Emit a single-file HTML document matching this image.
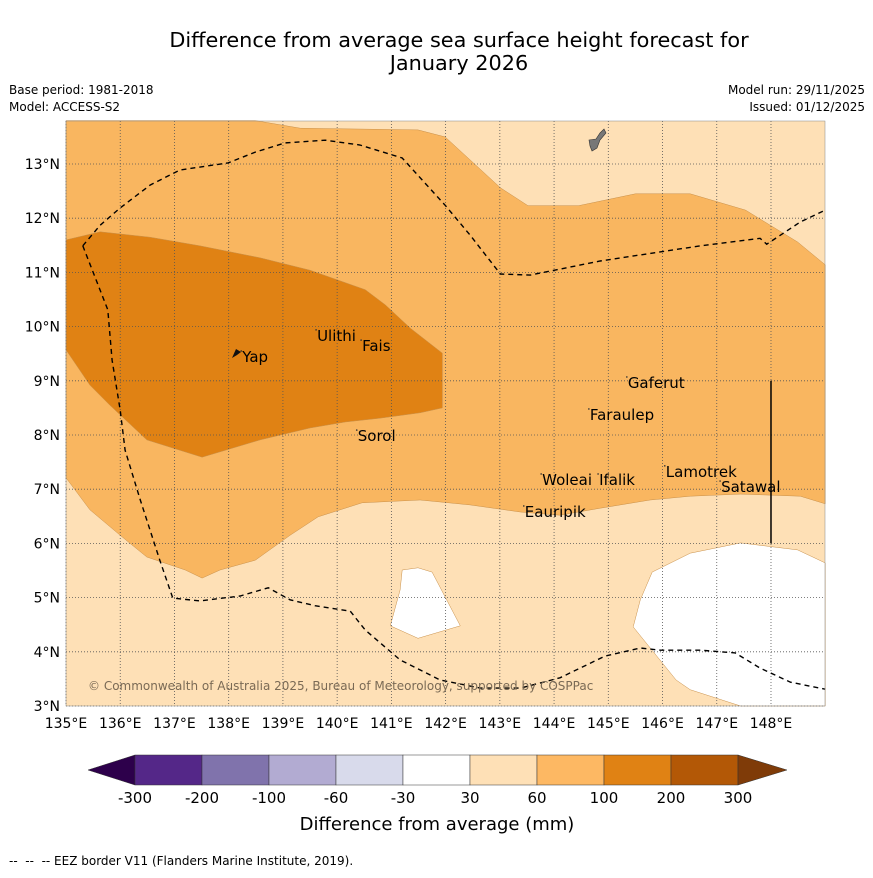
<!DOCTYPE html>
<html><head><meta charset="utf-8"><style>
body{margin:0;background:#fff;font-family:"Liberation Sans","DejaVu Sans",sans-serif;}
svg text{font-family:"DejaVu Sans","Liberation Sans",sans-serif;}
</style></head><body>
<svg id="chart" width="873" height="873" xmlns="http://www.w3.org/2000/svg">
<rect width="873" height="873" fill="#fff"/>
<text x="459" y="47" font-size="20.8" text-anchor="middle">Difference from average sea surface height forecast for</text>
<text x="459" y="70" font-size="20.8" text-anchor="middle">January 2026</text>
<text x="9" y="94" font-size="12">Base period: 1981-2018</text>
<text x="9" y="111" font-size="12">Model: ACCESS-S2</text>
<text x="865" y="94" font-size="12" text-anchor="end">Model run: 29/11/2025</text>
<text x="865" y="111" font-size="12" text-anchor="end">Issued: 01/12/2025</text>
<g id="map"></g>
<g id="cbar"></g>
<text x="437" y="830" font-size="18" text-anchor="middle">Difference from average (mm)</text>
<text x="9" y="865" font-size="12" xml:space="preserve">--  --  -- EEZ border V11 (Flanders Marine Institute, 2019).</text>
</svg>
<script>
const lonTicks=[135,136,137,138,139,140,141,142,143,144,145,146,147,148];
const latTicks=[3,4,5,6,7,8,9,10,11,12,13];
const mediumRegion=[[135,13.8],[138.49,13.8],[139.32,13.66],[141.49,13.63],[141.99,13.5],[143.01,12.56],[143.52,12.23],[144.45,12.23],[145.5,12.45],[146.51,12.45],[147.53,12.15],[148.49,11.56],[149,11.14],[149,6.73],[148.54,6.87],[147.44,6.91],[146.51,6.87],[145.77,6.8],[144.85,6.65],[144.11,6.52],[143.38,6.58],[142.45,6.71],[141.53,6.8],[140.46,6.75],[139.65,6.49],[139.13,6.15],[138.49,5.69],[137.84,5.51],[137.51,5.36],[137.2,5.51],[136.49,5.75],[136.0,6.15],[135.44,6.62],[135,7.21]];
const darkRegion=[[135,11.6],[135.63,11.75],[136.55,11.65],[137.47,11.49],[138.58,11.27],[139.5,11.04],[140.52,10.68],[140.89,10.4],[141.35,9.97],[141.94,9.51],[141.94,8.5],[141.53,8.41],[140.79,8.31],[140.15,8.24],[139.5,8.13],[138.58,7.91],[137.51,7.59],[136.49,7.91],[135.81,8.55],[135.44,8.92],[135,9.57]];
const whiteRegion1=[[141.2,5.51],[141.49,5.55],[141.75,5.47],[142.27,4.48],[141.49,4.25],[140.98,4.48],[141.16,5.14]];
const whiteRegion2=[[145.81,5.47],[146.51,5.82],[147.44,6.01],[148.49,5.88],[149,5.64],[149,3],[147.44,3],[146.51,3.3],[146.25,3.48],[145.46,4.46],[145.59,4.96]];
const eezNorth=[[135.31,11.49],[135.63,11.87],[136,12.19],[136.55,12.61],[137.1,12.89],[137.99,13.02],[138.49,13.22],[139.04,13.39],[139.78,13.44],[140.42,13.35],[141.2,13.11],[141.99,12.24],[142.45,11.69],[143.01,10.97],[143.56,10.95],[144.85,11.21],[146.7,11.49],[147.8,11.63],[147.92,11.52],[148.54,11.93],[149,12.15]];
const eezSouth=[[135.31,11.49],[135.77,10.31],[135.85,9.38],[136,8.46],[136.09,7.72],[136.37,6.8],[136.73,5.69],[136.97,4.99],[137.47,4.94],[138.21,5.03],[138.73,5.18],[139.13,4.96],[139.59,4.85],[140.24,4.75],[140.52,4.4],[141.16,3.85],[141.9,3.48],[142.64,3.33],[143.38,3.33],[144.11,3.52],[144.94,3.92],[145.59,4.07],[145.96,4.03],[146.7,4.03],[147.34,3.98],[147.8,3.7],[148.36,3.44],[149,3.31]];
const placeNames=["Yap","Ulithi","Fais","Sorol","Gaferut","Faraulep","Woleai","Ifalik","Lamotrek","Satawal","Eauripik"];
const placeLon=[138.25,139.63,140.46,140.38,145.36,144.66,143.78,144.83,146.06,147.08,143.46];
const placeLat=[9.44,9.83,9.64,7.98,8.96,8.37,7.17,7.17,7.32,7.04,6.58];
const cbColors=["#542788","#8073ac","#b2abd2","#d8daeb","#ffffff","#fee0b6","#fdb863","#e08214","#b35806"];
const cbLabels=["-300","-200","-100","-60","-30","30","60","100","200","300"];

const NS="http://www.w3.org/2000/svg";
const X0=66,X1=825,Y0=121,Y1=706;
const xs=lon=>66+(lon-135)*54.23;
const ys=lat=>706-(lat-3)*54.2;
function mk(tag,attrs,parent){const e=document.createElementNS(NS,tag);for(const k in attrs)e.setAttribute(k,attrs[k]);parent.appendChild(e);return e;}
const map=document.getElementById('map');
const pts=a=>a.map(p=>xs(p[0]).toFixed(1)+','+ys(p[1]).toFixed(1)).join(' ');
let bg=mk('rect',{x:X0,y:Y0,width:X1-X0,height:Y1-Y0,fill:'#fee0b6'},map);


const regions=[[mediumRegion,'#f9b660','contour-60-100'],[darkRegion,'#e08214','contour-100-200'],[whiteRegion1,'#ffffff','contour-white-1'],[whiteRegion2,'#ffffff','contour-white-2']];
regions.forEach(r=>{const p=mk('polygon',{points:pts(r[0]),fill:r[1],stroke:'#c8904a','stroke-width':0.5},map);

});
lonTicks.forEach(l=>{const g=mk('line',{x1:xs(l),x2:xs(l),y1:Y0,y2:Y1,stroke:'#555','stroke-width':0.8,'stroke-dasharray':'1,2'},map);


const t=mk('text',{x:xs(l),y:Y1+22,'font-size':14,'text-anchor':'middle'},map);t.textContent=l+'°E';

});
latTicks.forEach(l=>{const g=mk('line',{x1:X0,x2:X1,y1:ys(l),y2:ys(l),stroke:'#555','stroke-width':0.8,'stroke-dasharray':'1,2'},map);


const t=mk('text',{x:X0-6,y:ys(l)+5,'font-size':14,'text-anchor':'end'},map);t.textContent=l+'°N';

});
[eezNorth,eezSouth].forEach((a,i)=>{const p=mk('polyline',{points:pts(a),fill:'none',stroke:'#000','stroke-width':1.4,'stroke-dasharray':'5,4'},map);

});
let vl=mk('line',{x1:xs(148),x2:xs(148),y1:ys(9),y2:ys(6),stroke:'#000','stroke-width':1.5},map);


let guam=mk('path',{d:'M589,140 L596,139 L600,133 L604,129 L606,133 L600,140 L597,148 L592,151 L590,146 Z',fill:'#777',stroke:'#333','stroke-width':0.6},map);


let yap=mk('path',{d:'M232,358 L236,349 L241,352 L237,355 Z',fill:'#111'},map);


placeNames.forEach((n,i)=>{const t=mk('text',{x:xs(placeLon[i]),y:ys(placeLat[i])+5,'font-size':15},map);t.textContent=n;


const d=mk('circle',{cx:xs(placeLon[i])-1,cy:ys(placeLat[i])-6,r:0.8,fill:'#333'},map);

});
let cp=mk('text',{x:88,y:690,'font-size':12,fill:'#7a6a55'},map);cp.textContent='© Commonwealth of Australia 2025, Bureau of Meteorology, supported by COSPPac';


let fr=mk('rect',{x:X0,y:Y0,width:X1-X0,height:Y1-Y0,fill:'none',stroke:'#888','stroke-width':0.5},map);


const cb=document.getElementById('cbar');
const cx0=135,cw=67.0,cy=755,ch=30;
let lt=mk('polygon',{points:`88,770 ${cx0},${cy} ${cx0},${cy+ch}`,fill:'#2d004b',stroke:'#333','stroke-width':0.5},cb);


cbColors.forEach((c,i)=>{const r=mk('rect',{x:cx0+i*cw,y:cy,width:cw,height:ch,fill:c,stroke:'#333','stroke-width':0.5},cb);

});
const cEnd=cx0+cbColors.length*cw;
let rt=mk('polygon',{points:`${cEnd},${cy} 787,770 ${cEnd},${cy+ch}`,fill:'#7f3b08',stroke:'#333','stroke-width':0.5},cb);


cbLabels.forEach((l,i)=>{const t=mk('text',{x:cx0+i*cw,y:803,'font-size':15,'text-anchor':'middle'},cb);t.textContent=l;

});
</script>
</body></html>
